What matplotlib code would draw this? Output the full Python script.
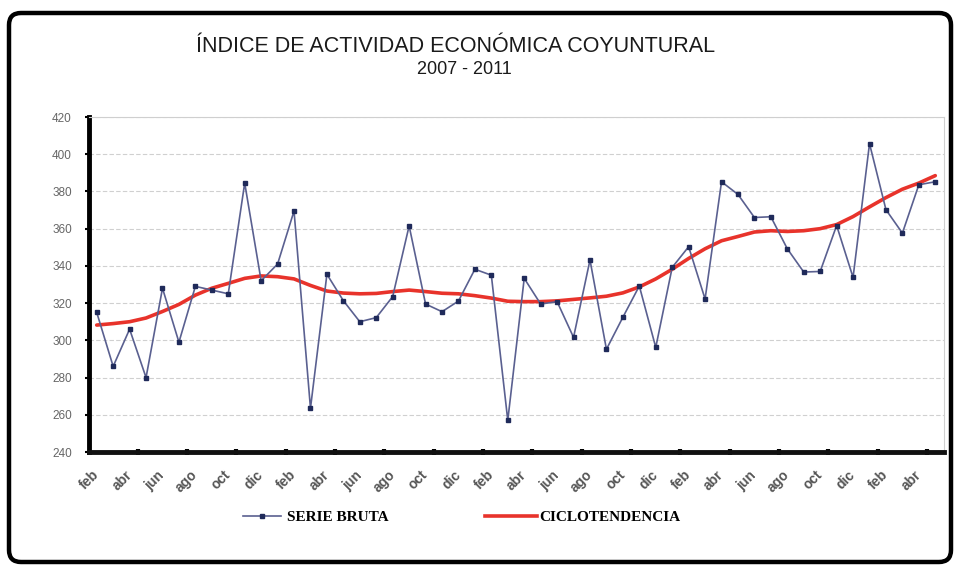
import matplotlib
matplotlib.use("Agg")
import matplotlib.pyplot as plt
import matplotlib.patches as mpatches
from matplotlib.lines import Line2D
from matplotlib.transforms import IdentityTransform
import numpy as np

# ---- data ----
month_cycle = ["feb", "abr", "jun", "ago", "oct", "dic"]
tick_labels = [month_cycle[i % 6] for i in range(26)]

serie_bruta = [315, 286, 306, 280, 328, 299, 329, 327, 325, 384.5,
               332, 341, 369.5, 263.5, 335.5, 321.3, 310, 312.2, 323.5, 361.5,
               319.5, 315.4, 321.1, 338.2, 335, 257, 333.3, 319.5, 320.8, 301.6,
               343.2, 295.2, 312.4, 329.2, 296.2, 339.2, 350.3, 322.2, 385.2, 378.4,
               366, 366.4, 349.2, 336.7, 337, 361.7, 333.8, 405.7, 370.2, 357.6,
               383.6, 385.2]

ciclotendencia = [308.2, 309, 310, 312, 315.5, 319.3, 324.3, 328, 330.6, 333.3,
                  334.6, 334.2, 333, 329.5, 326.5, 325.4, 325, 325.2, 326.2, 327,
                  326.2, 325.3, 325, 324, 322.7, 321, 320.8, 320.8, 321.2, 322,
                  322.8, 323.7, 325.5, 328.7, 333, 338.2, 344, 349.2, 353.5, 355.8,
                  358.2, 358.9, 358.5, 358.9, 360, 362.2, 366.5, 371.7, 376.7, 381.2,
                  384.5, 388.5]

y_ticks = [240, 260, 280, 300, 320, 340, 360, 380, 400, 420]

title_line1 = "ÍNDICE DE ACTIVIDAD ECONÓMICA COYUNTURAL"
title_line2 = "2007 - 2011"
legend_labels = ["SERIE BRUTA", "CICLOTENDENCIA"]

# ---- figure ----
W, H = 958, 570
fig = plt.figure(figsize=(W / 100, H / 100), dpi=100)
fig.patch.set_facecolor("white")

left, right, top, bottom = 88.5, 943.5, 117, 452
ax = fig.add_axes([left / W, 1 - bottom / H, (right - left) / W, (bottom - top) / H])

blue = "#5a6090"
red = "#e8332b"
x = np.arange(len(serie_bruta))
ax.plot(x, ciclotendencia, color=red, lw=2.6, zorder=3, solid_capstyle="round")
ax.plot(x, serie_bruta, color=blue, lw=1.2, marker="s", ms=2.6,
        mfc="#1f2a5a", mec="#1f2a5a", zorder=4)

ax.set_xlim(-0.5, len(serie_bruta) - 0.5)
ax.set_ylim(240, 420)

ax.set_yticks(y_ticks)
ax.set_yticklabels([str(v) for v in y_ticks], fontsize=8.5, color="#666666",
                   family="Liberation Sans")
ax.tick_params(axis="y", direction="out", length=3, width=1.5, color="black", pad=9)

major_x = np.arange(0, len(serie_bruta), 2)
ax.set_xticks(major_x)
ax.set_xticklabels(tick_labels, rotation=45, ha="right", va="center",
                   rotation_mode="anchor", fontsize=10, fontweight="bold",
                   color="#555555", family="Liberation Sans")
ax.tick_params(axis="x", which="major", length=0, pad=15)
ax.set_xticks(np.arange(2.5, len(serie_bruta), 3), minor=True)
ax.tick_params(axis="x", which="minor", direction="inout", length=5, width=3, color="black")

ax.grid(axis="y", color="#d0d0d0", lw=0.8, ls=(0, (4, 2)))
ax.set_axisbelow(True)

ax.spines["left"].set_linewidth(3.5)
ax.spines["left"].set_color("black")
ax.spines["bottom"].set_linewidth(3.5)
ax.spines["bottom"].set_color("#111111")
for s in ("top", "right"):
    ax.spines[s].set_color("#cfcfcf")
    ax.spines[s].set_linewidth(0.8)

# title
fig.text(456 / W, 1 - 47 / H, title_line1, ha="center", va="center",
         fontsize=15.5, color="#1a1a1a", family="Liberation Sans")
fig.text(464 / W, 1 - 70 / H, title_line2, ha="center", va="center",
         fontsize=13, color="#1a1a1a", family="Liberation Sans")

# legend (two entries placed separately)
legend_font = {"family": "Liberation Serif", "weight": "bold", "size": 11}
h1 = Line2D([], [], color=blue, lw=1.2, marker="s", ms=2.6, mfc="#1f2a5a", mec="#1f2a5a")
h2 = Line2D([], [], color=red, lw=2.6)
leg1 = fig.legend([h1], [legend_labels[0]], loc="center left",
                  bbox_to_anchor=(229 / W, 1 - 517 / H), frameon=False,
                  handlelength=2.5, handletextpad=0.4, prop=legend_font)
leg2 = fig.legend([h2], [legend_labels[1]], loc="center left",
                  bbox_to_anchor=(471 / W, 1 - 517 / H), frameon=False,
                  handlelength=3.4, handletextpad=0.15, prop=legend_font)

# outer rounded border
border = mpatches.FancyBboxPatch((9, H - 562), 942, 549,
                                 boxstyle="round,pad=0,rounding_size=12",
                                 transform=IdentityTransform(), fill=False,
                                 lw=3.2, ec="black")
fig.patches.append(border)

fig.savefig("out.png", dpi=100)
